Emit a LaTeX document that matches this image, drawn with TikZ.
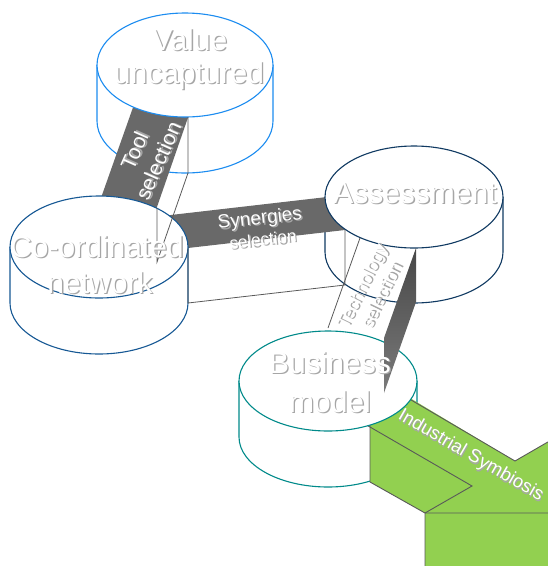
\documentclass[tikz,border=0pt]{standalone}
\usepackage{fontspec}
\setmainfont{Liberation Sans}
\definecolor{valueblue}{RGB}{28,140,240}
\definecolor{coordblue}{RGB}{22,88,148}
\definecolor{assessnavy}{RGB}{16,58,98}
\definecolor{bizteal}{RGB}{0,138,138}
\definecolor{ribgray}{RGB}{105,105,105}
\definecolor{edgegray}{RGB}{89,89,89}
\definecolor{isgreen}{RGB}{146,208,80}
\newcommand\shtxt[1]{\makebox[0pt][l]{\hspace{1.3pt}\raisebox{-1.6pt}{\textcolor{black!35}{#1}}}\textcolor{white}{#1}}
\newcommand\cylside[6]{%
  \fill[white] (#1-#4,#2) rectangle (#1+#4,#3);
  \fill[white] (#1,#3) ellipse[x radius=#4, y radius=#5];
  \draw[#6, cylline] (#1-#4,#2) -- (#1-#4,#3) arc[start angle=180, end angle=0, x radius=#4, y radius=#5] -- (#1+#4,#2);
}
\newcommand\cyltop[5]{%
  \draw[#5, cylline, fill=white] (#1,#2) ellipse[x radius=#3, y radius=#4];
}
\begin{document}
\begin{tikzpicture}[x=1pt,y=-1pt,
  cylline/.style={line width=1.1pt},
  ribedge/.style={draw=edgegray, line width=0.8pt},
  grnedge/.style={draw=edgegray, line width=0.9pt},
  bigtxt/.style={font=\fontsize{30}{34}\selectfont, inner sep=0pt, anchor=base},
  tooltxt/.style={font=\fontsize{21}{26}\selectfont, inner sep=0pt, align=center},
  techtxt/.style={font=\fontsize{18}{21.5}\selectfont, inner sep=0pt, align=center},
  syntxt/.style={inner sep=0pt},
  istxt/.style={font=\fontsize{18.5}{22}\selectfont, inner sep=0pt}]
\useasboundingbox (0,0) rectangle (548,566);
\clip (0,0) rectangle (548,566);

% cylinder sides behind ribbons
\cylside{185}{65}{121}{88}{52}{valueblue}
\cylside{414}{197}{252}{89}{51}{assessnavy}

% gray top faces of ribbons
\fill[ribgray] (136.5,97.5) -- (191.5,107.5) -- (153.5,217) -- (98.5,205) -- cycle;
\fill[ribgray] (156,216.7) -- (327,197) -- (345,230) -- (173,249.7) -- cycle;

% tops and the co-ordinated network cylinder
\cyltop{185}{65}{88}{52}{valueblue}
\cyltop{414}{197}{89}{51}{assessnavy}
\cylside{99}{247}{303}{89}{51}{coordblue}
\cyltop{99}{247}{89}{51}{coordblue}

% side faces of ribbons
\draw[ribedge] (188,117) -- (188,173) -- (157,262) -- (157,208);
\draw[ribedge] (188,248) -- (188,303) -- (345,285) -- (345,230);

% business model cylinder and industrial symbiosis arrow
\cylside{328}{381}{437}{89}{50}{bizteal}
\fill[isgreen] (405,395) -- (515,461) -- (548,442) -- (548,566) -- (425,566) -- (425,513) -- (370,482) -- (370,420) -- cycle;
\draw[grnedge] (405,396.4) -- (515,461) -- (548,441.9);
\draw[grnedge] (370,424) -- (370,482) -- (425,513) -- (548,513);
\draw[grnedge] (365,424.1) -- (472,486) -- (425,513) -- (425,566);
\cyltop{328}{381}{89}{50}{bizteal}

% technology selection ribbon
\draw[ribedge] (360,238) -- (328,328);
\shade[top color=black!72, bottom color=black!52] (416,248) -- (416,302) -- (384,393) -- (384,338) -- cycle;

% texts
\node[bigtxt] (v1) at (190,50) {\shtxt{Value}};
\node[bigtxt] (v2) at (189,83) {\shtxt{uncaptured}};
\node[bigtxt] (c1) at (97,257) {\shtxt{Co-ordinated}};
\node[bigtxt] (c2) at (100,293) {\shtxt{network}};
\node[bigtxt] (a1) at (415,203) {\shtxt{Assessment}};
\node[bigtxt] (b1) at (330,373) {\shtxt{Business}};
\node[bigtxt] (b2) at (330,412) {\shtxt{model}};
\node[tooltxt, rotate=66] (tool) at (147,156) {\shtxt{Tool}\\\shtxt{selection}};
\node[syntxt, rotate=6.5, font=\fontsize{19}{22}\selectfont] (syn1) at (260,220) {\shtxt{Synergies}};
\node[syntxt, rotate=6.5, font=\fontsize{17}{20}\selectfont] (syn2) at (263,240) {\shtxt{selection}};
\node[techtxt, rotate=64] (tech) at (372,291) {\shtxt{Technology}\\\shtxt{selection}};
\node[istxt, rotate=-30] (is) at (470.5,456.5) {\shtxt{Industrial Symbiosis}};
\end{tikzpicture}
\end{document}
